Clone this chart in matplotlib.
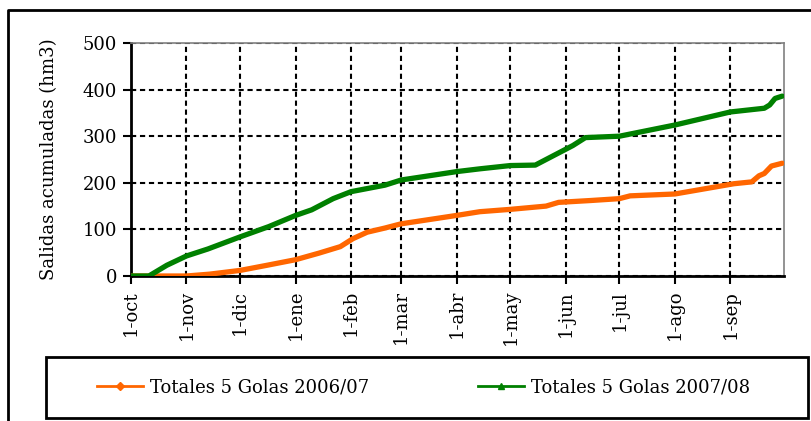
import pandas as pd
import matplotlib
matplotlib.use('Agg')
import matplotlib.pyplot as plt
from matplotlib.lines import Line2D
from matplotlib.patches import Rectangle

plt.rcParams['font.family'] = ['DejaVu Serif']

# Totales 5 Golas 2006/07 (hm3 acumulados)
fechas_0607 = ['2006-10-01', '2006-10-25', '2006-11-01', '2006-11-14', '2006-12-01',
               '2006-12-16', '2007-01-01', '2007-01-14', '2007-01-26', '2007-02-02',
               '2007-02-10', '2007-02-20', '2007-03-01', '2007-04-01', '2007-04-14',
               '2007-05-01', '2007-05-21', '2007-05-28', '2007-06-15', '2007-07-01',
               '2007-07-07', '2007-08-01', '2007-08-19', '2007-09-03', '2007-09-13',
               '2007-09-17', '2007-09-20', '2007-09-24', '2007-09-30']
valores_0607 = [0, 0, 0, 4, 12,
                23, 35, 49, 63, 80,
                94, 103, 112, 130, 138,
                143, 150, 158, 162, 166,
                172, 176, 188, 198, 202,
                215, 220, 236, 242]

# Totales 5 Golas 2007/08 (mismo eje oct-sep)
fechas_0708 = ['2006-10-01', '2006-10-11', '2006-10-21', '2006-11-01', '2006-11-13',
               '2006-12-01', '2006-12-17', '2007-01-01', '2007-01-10', '2007-01-22',
               '2007-02-01', '2007-02-20', '2007-03-01', '2007-04-01', '2007-04-14',
               '2007-05-01', '2007-05-15', '2007-05-24', '2007-06-01', '2007-06-05',
               '2007-06-12', '2007-07-01', '2007-08-01', '2007-09-01', '2007-09-20',
               '2007-09-23', '2007-09-26', '2007-09-30']
valores_0708 = [0, 0, 23, 43, 58,
                84, 106, 130, 142, 166,
                181, 195, 206, 224, 230,
                237, 238, 256, 272, 280,
                297, 300, 324, 352, 360,
                367, 381, 386]

meses = ['1-oct', '1-nov', '1-dic', '1-ene', '1-feb', '1-mar', '1-abr',
         '1-may', '1-jun', '1-jul', '1-ago', '1-sep']
yticks = [0, 100, 200, 300, 400, 500]

FS = 13
W, H = 812, 421
fig = plt.figure(figsize=(W / 100, H / 100), dpi=100)
ax = fig.add_axes([131 / W, 1 - 276 / H, (784 - 131) / W, (276 - 43) / H])

x1 = pd.to_datetime(fechas_0607)
x2 = pd.to_datetime(fechas_0708)
ax.plot(x1, valores_0607, color='#FF6600', lw=3.8, solid_capstyle='round', zorder=3)
ax.plot(x2, valores_0708, color='#008000', lw=3.8, solid_capstyle='round', zorder=3)

ticks = pd.date_range('2006-10-01', periods=13, freq='MS')
ax.set_xlim(ticks[0], ticks[-1])
ax.set_ylim(0, 500)
ax.set_xticks(ticks[:-1])
ax.set_xticklabels(meses, rotation=90, fontsize=FS)
ax.set_yticks(yticks)
ax.set_yticklabels([str(v) for v in yticks], fontsize=FS)
ax.tick_params(direction='out', length=6, width=1.5, color='black', pad=4)

ax.grid(True, color='black', linestyle=(0, (2.5, 1.8)), lw=1.5)
ax.set_axisbelow(True)
for s in ['left', 'bottom']:
    ax.spines[s].set_linewidth(2)
    ax.spines[s].set_color('black')
for s in ['top', 'right']:
    ax.spines[s].set_linewidth(1.2)
    ax.spines[s].set_color('#808080')

ax.set_ylabel('Salidas acumuladas (hm3)', fontsize=FS, labelpad=18)

# marco exterior
fig.add_artist(Line2D([8 / W, 8 / W, 1.0], [0.0, 1 - 10 / H, 1 - 10 / H],
                      transform=fig.transFigure, color='black', lw=2))

# marco de la leyenda
fig.add_artist(Rectangle((46 / W, 1 - 418 / H), (808 - 46) / W, (418 - 357) / H,
                         transform=fig.transFigure, fill=False, ec='black', lw=2))

handles = [Line2D([], [], color='#FF6600', lw=2, marker='D', markersize=4),
           Line2D([], [], color='#008000', lw=2, marker='^', markersize=5)]
fig.legend(handles, ['Totales 5 Golas 2006/07', 'Totales 5 Golas 2007/08'],
           loc='center left', ncol=2, bbox_to_anchor=(97 / W, 1 - 387 / H),
           fontsize=FS, frameon=False, handlelength=2.55, handletextpad=0.4,
           columnspacing=6.0, borderpad=0, borderaxespad=0)

fig.savefig('out.png', dpi=100)
